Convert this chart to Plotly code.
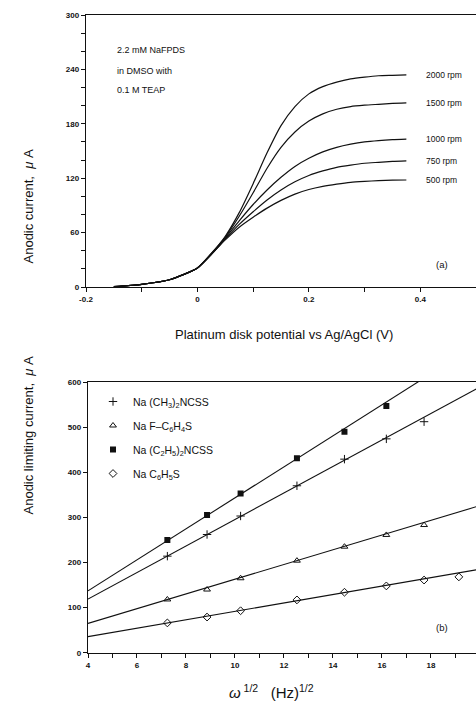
import plotly.graph_objects as go

W, H = 476, 716

# ---------- (a) rotating-disk voltammograms ----------
potential = [-0.15, -0.1, -0.05, 0.0, 0.025, 0.05, 0.075, 0.1, 0.125, 0.15,
             0.175, 0.2, 0.225, 0.25, 0.275, 0.3, 0.325, 0.35, 0.375]
rpm_labels = ["2000 rpm", "1500 rpm", "1000 rpm", "750 rpm", "500 rpm"]
i_2000 = [0.5, 3, 8, 21, 37, 56, 82, 114, 148, 178, 199, 213, 221, 226, 229.5, 231.5, 233, 233.5, 234]
i_1500 = [0.5, 3, 8, 21, 37, 55, 78, 104, 131, 154, 171, 183, 191, 196, 199, 200.5, 201.5, 202.5, 203]
i_1000 = [0.5, 3, 8, 21, 36, 54, 73, 91, 107, 121, 133, 142, 149, 154, 157.5, 160, 161.5, 162.5, 163]
i_750 = [0.5, 3, 8, 21, 36, 53, 69, 83, 96, 107, 116, 123, 128, 132, 134.5, 136.5, 137.5, 138.5, 139]
i_500 = [0.5, 3, 8, 21, 36, 52, 66, 77, 87, 95.5, 102.5, 107.5, 111, 113.5, 115.5, 116.5, 117.3, 117.8, 118]
currents = [i_2000, i_1500, i_1000, i_750, i_500]

# ---------- (b) Levich plots ----------
omega_sqrt = [7.24, 8.86, 10.23, 12.53, 14.47, 16.18, 17.72, 19.14]
dmdtc = [214, 262, 303, 370, 429, 474, 512]          # Na (CH3)2NCSS
fthiophenolate = [118, 140, 165, 204, 235, 261, 283]  # Na F-C6H4S
dedtc = [250, 305, 353, 431, 490, 547]                # Na (C2H5)2NCSS
thiophenolate = [66, 79, 93, 117, 134, 148, 161, 168] # Na C6H5S

fit_x = [4, 20]
fit_dmdtc = [119, 589]
fit_fthio = [65, 326]
fit_dedtc = [137, 687]
fit_thio = [35.5, 185]

FONT = "Liberation Sans, Arial, sans-serif"
INK = "#111111"

fig = go.Figure()

for lab, cur in zip(rpm_labels, currents):
    fig.add_trace(go.Scatter(
        x=potential, y=cur, mode="lines", xaxis="x", yaxis="y",
        line=dict(color=INK, width=1.2, shape="spline", smoothing=0.6),
        showlegend=False, hoverinfo="skip"))
    fig.add_annotation(x=0.407, y=cur[-1], xref="x", yref="y", text=lab,
                       showarrow=False, xanchor="left", yanchor="middle",
                       font=dict(family=FONT, size=8.5, color=INK))

series = [
    ("Na (CH<sub>3</sub>)<sub>2</sub>NCSS", dmdtc, fit_dmdtc,
     dict(symbol="cross-thin", size=6, line=dict(width=1, color=INK), color=INK)),
    ("Na F\u2013C<sub>6</sub>H<sub>4</sub>S", fthiophenolate, fit_fthio,
     dict(symbol="triangle-up-open", size=6, line=dict(width=1, color=INK), color=INK)),
    ("Na (C<sub>2</sub>H<sub>5</sub>)<sub>2</sub>NCSS", dedtc, fit_dedtc,
     dict(symbol="square", size=6, color=INK, line=dict(width=0))),
    ("Na C<sub>6</sub>H<sub>5</sub>S", thiophenolate, fit_thio,
     dict(symbol="diamond-open", size=6, line=dict(width=1, color=INK), color=INK)),
]

for k, (name, vals, fit, mk) in enumerate(series):
    fig.add_trace(go.Scatter(
        x=fit_x, y=fit, mode="lines", xaxis="x2", yaxis="y2",
        line=dict(color=INK, width=1.1), showlegend=False, hoverinfo="skip"))
    fig.add_trace(go.Scatter(
        x=omega_sqrt[:len(vals)], y=vals, mode="markers", xaxis="x2", yaxis="y2",
        marker=mk, name=name, legendgroup=f"g{k}", showlegend=True))

tick_font = dict(family=FONT, size=8, color=INK, weight="bold")
axis_common = dict(showline=True, linecolor=INK, linewidth=1.4, ticks="outside",
                   ticklen=4, tickwidth=1, tickcolor=INK, showgrid=False,
                   zeroline=False, tickfont=tick_font, automargin=False)

fig.update_layout(
    width=W, height=H, margin=dict(l=0, r=0, t=0, b=0),
    paper_bgcolor="white", plot_bgcolor="white",
    font=dict(family=FONT, color=INK, size=10),
    xaxis=dict(domain=[86 / W, 1], range=[-0.2, 0.5], anchor="y",
               tickvals=[-0.2, 0, 0.2, 0.4], ticktext=["-0.2", "0", "0.2", "0.4"],
               minor=dict(dtick=0.1, tick0=0, ticks="outside", ticklen=4, tickcolor=INK),
               mirror=True, **axis_common),
    yaxis=dict(domain=[1 - 287 / H, 1 - 15 / H], range=[0, 300], anchor="x",
               tickvals=[0, 60, 120, 180, 240, 300],
               minor=dict(dtick=20, tick0=0, ticks="outside", ticklen=4, tickcolor=INK),
               **axis_common),
    xaxis2=dict(domain=[88 / W, 1], range=[4, 19.84], anchor="y2",
                tickvals=[4, 6, 8, 10, 12, 14, 16, 18, 20],
                minor=dict(dtick=1, tick0=0, ticks="outside", ticklen=4, tickcolor=INK),
                mirror=True, **axis_common),
    yaxis2=dict(domain=[1 - 652.7 / H, 1 - 382 / H], range=[0, 600], anchor="x2",
                tickvals=[0, 100, 200, 300, 400, 500, 600], **axis_common),
    legend=dict(x=93 / W, y=1 - 387 / H, xanchor="left", yanchor="top",
                bgcolor="rgba(0,0,0,0)", borderwidth=0, tracegroupgap=5,
                font=dict(family=FONT, size=10.5, color=INK)),
    showlegend=True,
)


def paper_text(px, py, text, size, **kw):
    fig.add_annotation(x=px / W, y=1 - py / H, xref="paper", yref="paper",
                       text=text, showarrow=False,
                       font=dict(family=FONT, size=size, color=INK), **kw)


# panel (a) notes
paper_text(115, 43, "2.2 mM NaFPDS", 9, xanchor="left")
paper_text(115, 64, "in DMSO with", 9, xanchor="left")
paper_text(115, 83, "0.1 M TEAP", 9, xanchor="left")
paper_text(450, 265, "(a)", 9.5)
paper_text(450, 635, "(b)", 9.5)

# axis titles
paper_text(18, 148, "Anodic current,  <i>\u03bc</i> A", 13, textangle=-90)
paper_text(284, 335, "Platinum disk potential vs Ag/AgCl (V)", 13)
paper_text(18, 517, "Anodic limiting current,  <i>\u03bc</i> A", 13, textangle=-90)
paper_text(271, 703, "<i>\u03c9</i><sup> 1/2</sup>   (Hz)<sup>1/2</sup>", 15)

fig.write_html("out.html")
